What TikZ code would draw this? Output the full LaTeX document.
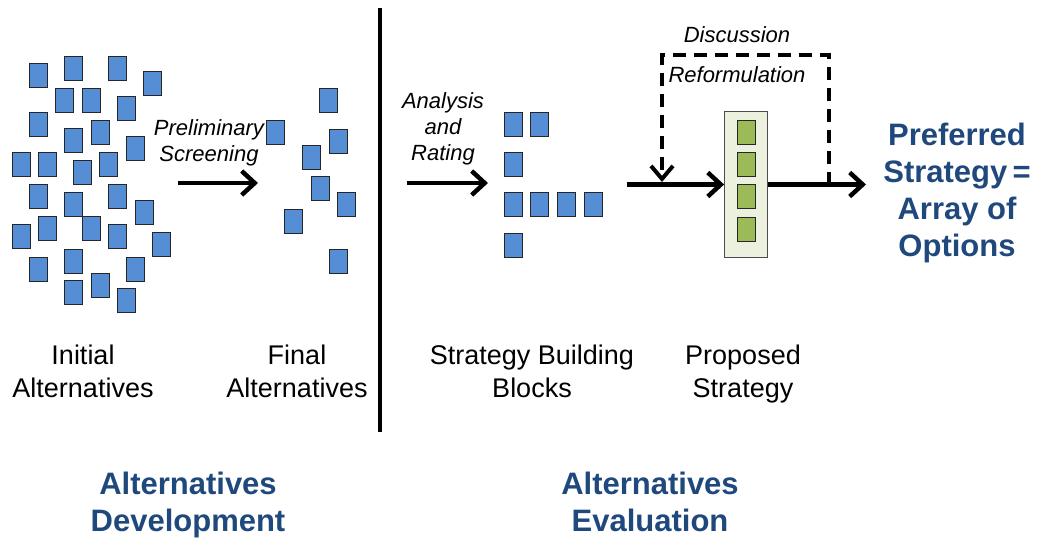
\documentclass[tikz,border=0pt]{standalone}
\usepackage{fontspec}
\setmainfont{Liberation Sans}
\usetikzlibrary{arrows.meta}

\definecolor{blkblue}{RGB}{85,142,213}
\definecolor{blkgreen}{RGB}{155,187,89}
\definecolor{boxfill}{RGB}{235,241,222}
\definecolor{headblue}{RGB}{31,73,125}

\tikzset{
  blk/.style={draw=black!85, fill=blkblue, line width=0.9pt, inner sep=0pt,
    minimum width=18pt, minimum height=24pt},
  gblk/.style={blk, fill=blkgreen},
  flow/.style={line width=4.5pt, -{Straight Barb[length=13pt,width=24pt]}},
  loopback/.style={line width=4pt, dash pattern=on 13pt off 8pt,
    -{Straight Barb[length=13pt,width=22pt,line width=4pt]}},
  lbl/.style={font=\fontsize{27}{33}\selectfont, align=center},
  note/.style={font=\fontsize{22}{26}\selectfont\itshape, align=center},
  head/.style={font=\fontsize{31}{37}\selectfont\bfseries, text=headblue, align=center}
}

\begin{document}
\begin{tikzpicture}[x=1pt,y=-1pt]
  \useasboundingbox (0,0) rectangle (1039,539);

  % initial alternatives
  \foreach \x/\y [count=\i] in {38/75,73/68,117/68,152/83,64/100,91/100,126/108,
      38/124,100/132,73/140,135/148,21/164,47/164,108/164,82/172,38/196,117/196,
      73/204,144/212,47/228,91/228,21/236,117/236,161/244,38/269,73/261,135/269,
      100/285,73/292,126/300}
    \node[blk] (ia\i) at (\x,\y) {};

  % final alternatives
  \foreach \x/\y [count=\i] in {275/132,328/100,338/141,311/157,320/188,346/204,
      293/221,338/261}
    \node[blk] (fa\i) at (\x,\y) {};

  % building blocks
  \foreach \x/\y [count=\i] in {513/124,539/124,513/164,513/204,539/204,566/204,
      593/204,513/245}
    \node[blk] (bb\i) at (\x,\y) {};

  % proposed strategy
  \node[draw=black!70, fill=boxfill, line width=0.8pt, minimum width=43pt,
    minimum height=146pt] (prop) at (746,184.5) {};
  \foreach \y [count=\i] in {132,164,196,229}
    \node[gblk] (ps\i) at (746,\y) {};

  % divider
  \draw[line width=3.5pt] (380,8) -- (380,432);

  % arrows
  \coordinate (scr-a) at (178,183);
  \coordinate (scr-b) at (258,183);
  \coordinate (rat-a) at (407,183);
  \coordinate (rat-b) at (488,183);
  \coordinate (pro-a) at (627,184.5);
  \coordinate (pref) at (866,184.5);
  \coordinate (fb-out) at (829,184.5);
  \coordinate (fb-in) at (662,182);
  \draw[flow] (scr-a) -- (scr-b);
  \draw[flow] (rat-a) -- (rat-b);
  \draw[flow] (pro-a) -- (prop.west);
  \draw[flow] (prop.east) -- (pref);
  \draw[loopback] (fb-out) -- ++(0,-130) -| (fb-in);

  % notes
  \node[note] (scrtxt) at (209,143) {Preliminary\\Screening};
  \node[note] (rattxt) at (443,129) {Analysis\\and\\Rating};
  \node[note] (distxt) at (737,35) {Discussion};
  \node[note] (reftxt) at (737,75) {Reformulation};

  % labels
  \node[lbl] (ialbl) at (83,371) {Initial\\Alternatives};
  \node[lbl] (falbl) at (297,371) {Final\\Alternatives};
  \node[lbl] (bblbl) at (532,371) {Strategy Building\\Blocks};
  \node[lbl] (pslbl) at (743,374) {Proposed\\Strategy};

  \node[head] (pref-txt) at (957,193) {Preferred\\Strategy\,=\\Array of\\Options};
  \node[head] (dev) at (188,505) {Alternatives\\Development};
  \node[head] (eval) at (650,502) {Alternatives\\Evaluation};
\end{tikzpicture}
\end{document}
